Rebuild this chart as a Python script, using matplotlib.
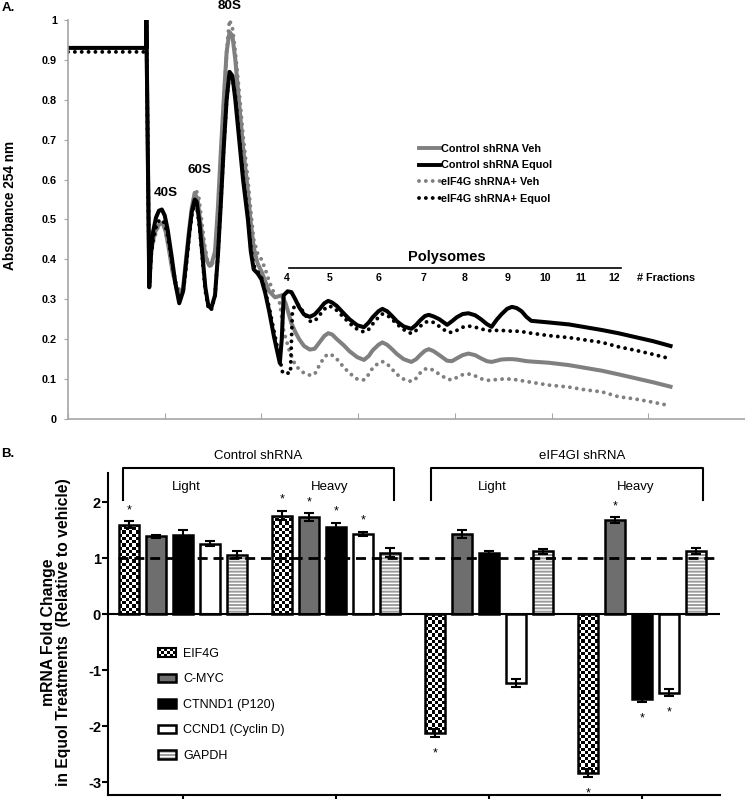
import numpy as np
import matplotlib
matplotlib.use('Agg')
import matplotlib.pyplot as plt
from matplotlib.patches import Rectangle
from matplotlib.lines import Line2D
from matplotlib.legend_handler import HandlerBase, HandlerTuple

plt.rcParams['font.family'] = ['Liberation Sans', 'DejaVu Sans']
plt.rcParams['axes.unicode_minus'] = False
plt.rcParams['hatch.color'] = '#9c9c9c'
plt.rcParams['hatch.linewidth'] = 1.4

# ---- panel A: polysome profiles (x in gradient position units, y absorbance 254 nm)
# early part of each trace (load, 40S, 60S, 80S)
ctrl_equol_x0 = [0, 81, 81, 84, 86, 88, 91, 94, 97, 100, 103, 107, 111, 115, 119, 122, 125, 128, 131, 133,
                 136, 139, 142, 145, 148, 152, 155, 158, 161, 164, 167, 170, 173, 177, 181, 186, 189, 192, 196,
                 200, 204, 208, 213, 219, 221, 223, 227, 231, 235]
ctrl_equol_y0 = [0.93, 0.93, 1.0, 0.33, 0.42, 0.47, 0.505, 0.522, 0.525, 0.51, 0.475, 0.41, 0.34, 0.29, 0.32,
                 0.39, 0.46, 0.52, 0.55, 0.545, 0.49, 0.41, 0.33, 0.285, 0.277, 0.31, 0.41, 0.54, 0.68, 0.8,
                 0.87, 0.86, 0.8, 0.7, 0.6, 0.5, 0.42, 0.375, 0.365, 0.35, 0.315, 0.27, 0.206, 0.14, 0.2, 0.31,
                 0.32, 0.318, 0.3]

kd_equol_x0 = [0, 81, 81, 84, 86, 88, 91, 94, 97, 100, 103, 107, 111, 115, 119, 122, 125, 128, 131, 133,
               136, 139, 142, 145, 148, 152, 155, 158, 161, 164, 167, 170, 173, 177, 181, 186, 189, 192, 196,
               200, 204, 208, 213, 219, 222, 227, 230, 232, 235]
kd_equol_y0 = [0.92, 0.92, 1.0, 0.33, 0.41, 0.45, 0.48, 0.497, 0.5, 0.49, 0.46, 0.4, 0.34, 0.3, 0.32, 0.38,
               0.45, 0.51, 0.54, 0.535, 0.48, 0.4, 0.32, 0.28, 0.272, 0.31, 0.41, 0.54, 0.68, 0.8, 0.865, 0.855,
               0.81, 0.71, 0.61, 0.51, 0.43, 0.385, 0.37, 0.355, 0.32, 0.28, 0.22, 0.15, 0.115, 0.115, 0.115,
               0.27, 0.288]

ctrl_veh_x0 = [81, 84, 86, 89, 92, 95, 98, 101, 104, 108, 112, 115, 119, 122, 125, 128, 131, 134, 137, 140,
               143, 146, 148, 152, 155, 158, 161, 164, 167, 170, 173, 177, 181, 186, 189, 192, 196, 200, 204,
               208, 214, 221, 225, 231, 235]
ctrl_veh_y0 = [1.0, 0.36, 0.42, 0.46, 0.48, 0.49, 0.49, 0.47, 0.43, 0.37, 0.33, 0.31, 0.33, 0.4, 0.47, 0.53,
               0.567, 0.55, 0.49, 0.44, 0.4, 0.385, 0.385, 0.42, 0.53, 0.67, 0.8, 0.92, 0.97, 0.96, 0.9, 0.79,
               0.68, 0.57, 0.49, 0.43, 0.39, 0.37, 0.345, 0.32, 0.305, 0.31, 0.29, 0.24, 0.218]

kd_veh_x0 = [81, 84, 86, 89, 92, 95, 98, 101, 104, 108, 112, 117, 120, 123, 126, 129, 132, 135, 138, 141,
             144, 147, 149, 153, 156, 159, 162, 165, 167, 170, 173, 177, 181, 186, 189, 192, 196, 200, 204,
             208, 214, 219, 223, 229, 235]
kd_veh_y0 = [1.0, 0.38, 0.42, 0.45, 0.475, 0.488, 0.49, 0.47, 0.43, 0.38, 0.34, 0.31, 0.33, 0.4, 0.48, 0.54,
             0.575, 0.56, 0.5, 0.44, 0.4, 0.38, 0.385, 0.43, 0.55, 0.7, 0.84, 0.95, 1.0, 0.98, 0.92, 0.82,
             0.71, 0.6, 0.52, 0.45, 0.415, 0.4, 0.375, 0.345, 0.31, 0.29, 0.22, 0.17, 0.135]

# polysome region, common sampling positions for all four traces
poly_x = [239, 244, 250, 255, 260, 265, 269, 273, 278, 285, 291, 299, 306, 311, 315, 321, 325, 330, 335, 340,
          347, 355, 360, 364, 369, 373, 378, 384, 392, 397, 402, 408, 414, 421, 427, 433, 438, 443, 448, 454,
          459, 464, 469, 474, 479, 497, 518, 535, 552, 569, 587, 605, 623]
ctrl_equol_poly = [0.28, 0.262, 0.256, 0.262, 0.275, 0.29, 0.296, 0.292, 0.283, 0.265, 0.25, 0.235, 0.23,
                   0.242, 0.255, 0.27, 0.276, 0.27, 0.258, 0.245, 0.232, 0.226, 0.236, 0.247, 0.258, 0.261,
                   0.257, 0.25, 0.236, 0.245, 0.255, 0.263, 0.265, 0.26, 0.25, 0.238, 0.231, 0.248, 0.262,
                   0.276, 0.281, 0.278, 0.27, 0.256, 0.246, 0.242, 0.237, 0.23, 0.223, 0.215, 0.205, 0.195, 0.183]
kd_equol_poly = [0.285, 0.265, 0.245, 0.245, 0.26, 0.275, 0.283, 0.281, 0.272, 0.255, 0.24, 0.225, 0.218,
                 0.225, 0.238, 0.255, 0.263, 0.26, 0.25, 0.238, 0.224, 0.214, 0.222, 0.232, 0.242, 0.245,
                 0.242, 0.232, 0.218, 0.217, 0.222, 0.23, 0.233, 0.23, 0.226, 0.222, 0.221, 0.222, 0.222,
                 0.221, 0.22, 0.22, 0.219, 0.217, 0.215, 0.209, 0.204, 0.198, 0.192, 0.181, 0.172, 0.162, 0.151]
ctrl_veh_poly = [0.20, 0.183, 0.174, 0.176, 0.192, 0.208, 0.215, 0.212, 0.2, 0.185, 0.17, 0.155, 0.148, 0.158,
                 0.172, 0.186, 0.192, 0.186, 0.175, 0.163, 0.15, 0.143, 0.15, 0.16, 0.171, 0.175, 0.17, 0.16,
                 0.146, 0.145, 0.152, 0.16, 0.164, 0.16, 0.152, 0.145, 0.143, 0.146, 0.149, 0.15, 0.15, 0.149,
                 0.147, 0.145, 0.144, 0.141, 0.135, 0.128, 0.121, 0.112, 0.102, 0.092, 0.081]
kd_veh_poly = [0.125, 0.115, 0.11, 0.112, 0.135, 0.155, 0.163, 0.16, 0.15, 0.13, 0.115, 0.1, 0.098, 0.112,
               0.128, 0.14, 0.144, 0.138, 0.125, 0.112, 0.1, 0.094, 0.102, 0.115, 0.125, 0.127, 0.122, 0.112,
               0.1, 0.098, 0.104, 0.111, 0.113, 0.108, 0.101, 0.097, 0.097, 0.099, 0.1, 0.1, 0.1, 0.098,
               0.096, 0.094, 0.092, 0.085, 0.08, 0.073, 0.068, 0.056, 0.05, 0.042, 0.033]

fraction_labels = ['4', '5', '6', '7', '8', '9', '10', '11', '12']
fraction_pos = [226, 270, 321, 368, 410, 454, 493, 530, 565]

# ---- panel B: mRNA fold change
groups = ['Control Light', 'Control Heavy', 'eIF4GI Light', 'eIF4GI Heavy']
genes = ['EIF4G', 'C-MYC', 'CTNND1 (P120)', 'CCND1 (Cyclin D)', 'GAPDH']
fold = {
    'EIF4G':            [1.60, 1.76, -2.12, -2.83],
    'C-MYC':            [1.39, 1.73, 1.43, 1.68],
    'CTNND1 (P120)':    [1.42, 1.55, 1.09, -1.51],
    'CCND1 (Cyclin D)': [1.26, 1.43, -1.23, -1.40],
    'GAPDH':            [1.06, 1.10, 1.12, 1.13],
}
err = {
    'EIF4G':            [0.06, 0.08, 0.07, 0.07],
    'C-MYC':            [0.03, 0.07, 0.07, 0.05],
    'CTNND1 (P120)':    [0.09, 0.08, 0.035, 0.06],
    'CCND1 (Cyclin D)': [0.04, 0.035, 0.07, 0.06],
    'GAPDH':            [0.065, 0.075, 0.05, 0.05],
}
signif = {
    'EIF4G':            [1, 1, 1, 1],
    'C-MYC':            [0, 1, 0, 1],
    'CTNND1 (P120)':    [0, 1, 0, 1],
    'CCND1 (Cyclin D)': [0, 1, 0, 1],
    'GAPDH':            [0, 0, 0, 0],
}
bar_colors = {'EIF4G': 'white', 'C-MYC': '#6e6e6e', 'CTNND1 (P120)': 'black',
              'CCND1 (Cyclin D)': 'white', 'GAPDH': 'white'}

fig = plt.figure(figsize=(7.45, 7.99), dpi=100)

# ================= Panel A
axA = fig.add_axes([0.0913, 0.4756, 0.9087, 0.4994])
gray = '#808080'
dots = (0, (0.01, 1.75))
axA.plot(kd_veh_x0 + poly_x, kd_veh_y0 + kd_veh_poly, color=gray, lw=2.8, linestyle=dots,
         dash_capstyle='round')
axA.plot(ctrl_veh_x0 + poly_x, ctrl_veh_y0 + ctrl_veh_poly, color=gray, lw=2.9, solid_joinstyle='round')
axA.plot(kd_equol_x0 + poly_x, kd_equol_y0 + kd_equol_poly, color='black', lw=2.8, linestyle=dots,
         dash_capstyle='round')
axA.plot(ctrl_equol_x0 + poly_x, ctrl_equol_y0 + ctrl_equol_poly, color='black', lw=2.9,
         solid_joinstyle='round')

axA.set_xlim(0, 700)
axA.set_ylim(0, 1)
axA.set_xticks(range(0, 701, 100))
axA.set_xticklabels([])
yt = np.arange(0, 1.01, 0.1)
axA.set_yticks(yt)
axA.set_yticklabels([f'{v:g}' for v in yt], fontsize=7.8, fontweight='bold')
for s in ['top', 'right']:
    axA.spines[s].set_visible(False)
for s in ['left', 'bottom']:
    axA.spines[s].set_color('#a6a6a6')
    axA.spines[s].set_linewidth(1.2)
axA.tick_params(axis='x', direction='in', length=4, color='#a6a6a6')
axA.tick_params(axis='y', direction='out', length=3, color='#a6a6a6', pad=5)

for lbl, xx, yy in [('80S', 167, 1.035), ('60S', 136, 0.624), ('40S', 101, 0.566)]:
    axA.text(xx, yy, lbl, fontsize=9.7, fontweight='bold', ha='center', va='center', clip_on=False)

axA.plot([229, 572], [0.378, 0.378], color='black', lw=1.2)
axA.text(392, 0.406, 'Polysomes', fontsize=10.5, fontweight='bold', ha='center', va='center')
for lbl, xx in zip(fraction_labels, fraction_pos):
    axA.text(xx, 0.353, lbl, fontsize=7.6, fontweight='bold', ha='center', va='center')
axA.text(588, 0.353, '# Fractions', fontsize=7.8, fontweight='bold', ha='left', va='center')

legA = [Line2D([], [], color=gray, lw=2.8),
        Line2D([], [], color='black', lw=2.8),
        Line2D([], [], color=gray, lw=2.8, linestyle=dots, dash_capstyle='round'),
        Line2D([], [], color='black', lw=2.8, linestyle=dots, dash_capstyle='round')]
axA.legend(legA, ['Control shRNA Veh', 'Control shRNA Equol', 'eIF4G shRNA+ Veh', 'eIF4G shRNA+ Equol'],
           loc='upper left', bbox_to_anchor=(0.518, 0.69), frameon=False, borderpad=0, borderaxespad=0,
           handlelength=2.0, handletextpad=0.1, labelspacing=0.62, prop={'weight': 'bold', 'size': 7.8})

fig.text(10 / 745, 0.743, 'Absorbance 254 nm', rotation=90, fontsize=9.8, fontweight='bold',
         ha='center', va='center')
fig.text(0.002, 0.99, 'A.', fontsize=9.5, fontweight='bold', ha='left', va='center')
fig.text(0.002, 0.432, 'B.', fontsize=9.5, fontweight='bold', ha='left', va='center')

# ================= Panel B
axB = fig.add_axes([0.145, 0.005, 0.8215, 0.403])
xlim = (-0.49, 3.51)
ylim = (-3.23, 2.52)
axB.set_xlim(*xlim)
axB.set_ylim(*ylim)
gpos = np.arange(len(groups))
step = 0.1765
width = 0.125
px_x = axB.bbox.width / (xlim[1] - xlim[0])
px_y = axB.bbox.height / (ylim[1] - ylim[0])

handles = []
for i, g in enumerate(genes):
    xs = gpos + (i - 2) * step
    vals = np.array(fold[g])
    if g == 'GAPDH':
        hb = axB.bar(xs, vals, width, color='white', hatch='-----', linewidth=0, zorder=2)
        ob = axB.bar(xs, vals, width, fill=False, edgecolor='black', linewidth=1.8, zorder=3)
        handles.append((hb[0], ob[0]))
    elif g == 'EIF4G':
        bb = axB.bar(xs, vals, width, color='white', edgecolor='none', linewidth=0, zorder=1)
        for r in bb:
            x0, w = r.get_x(), r.get_width()
            y0, h = r.get_y(), r.get_height()
            ncol = 6
            cell = w * px_x / ncol
            nrow = max(1, int(round(abs(h) * px_y / cell)))
            board = np.add.outer(np.arange(nrow), np.arange(ncol)) % 2
            im = axB.imshow(board, cmap='gray', vmin=0, vmax=1, interpolation='nearest', aspect='auto',
                            origin='lower', extent=(x0, x0 + w, min(y0, y0 + h), max(y0, y0 + h)), zorder=2)
            im.set_clip_path(r)
        ob = axB.bar(xs, vals, width, fill=False, edgecolor='black', linewidth=1.8, zorder=3)
        handles.append(ob[0])
        checker_handle = ob[0]
    else:
        bb = axB.bar(xs, vals, width, color=bar_colors[g], edgecolor='black', linewidth=1.8, zorder=3)
        handles.append(bb[0])
    axB.errorbar(xs, vals, yerr=err[g], fmt='none', ecolor='black', elinewidth=1.5, capsize=3.5,
                 capthick=1.5, zorder=4)
    for xx, v, e, s in zip(xs, vals, err[g], signif[g]):
        if s:
            if v > 0:
                axB.text(xx, v + e + 0.2, '*', fontsize=9, ha='center', va='center')
            else:
                axB.text(xx, v - e - 0.3, '*', fontsize=9, ha='center', va='center')

axB.set_xlim(*xlim)
axB.set_ylim(*ylim)
axB.axhline(0, color='black', lw=1.5, zorder=3)
axB.axhline(1, xmin=0.016, xmax=0.995, color='black', lw=2, linestyle=(0, (3.6, 2.1)), zorder=5)

axB.set_xticks(gpos)
axB.set_xticklabels([])
axB.set_yticks([-3, -2, -1, 0, 1, 2])
axB.set_yticklabels(['-3', '-2', '-1', '0', '1', '2'], fontsize=10.5, fontweight='bold')
axB.tick_params(axis='both', direction='out', length=4, width=1.5, pad=1)
for s in ['top', 'right']:
    axB.spines[s].set_visible(False)
for s in ['left', 'bottom']:
    axB.spines[s].set_linewidth(1.5)

# brackets and group labels
for x0, x1, name, cx in [(-0.39, 1.38, 'Control shRNA', 0.49), (1.62, 3.40, 'eIF4GI shRNA', 2.61)]:
    axB.plot([x0, x0, x1, x1], [2.04, 2.61, 2.61, 2.04], color='black', lw=1.5, clip_on=False)
    axB.text(cx, 2.82, name, fontsize=9.5, ha='center', va='center', clip_on=False)
for g, xx in zip(groups, gpos):
    axB.text(xx + 0.02 if xx % 2 == 0 else xx - 0.04, 2.27, g.split()[-1], fontsize=9.5,
             ha='center', va='center')


class CheckerHandler(HandlerBase):
    def create_artists(self, legend, orig_handle, xdescent, ydescent, width, height, fontsize, trans):
        arts = [Rectangle((-xdescent, -ydescent), width, height, facecolor='white', edgecolor='none',
                          transform=trans)]
        n, m = 6, 3
        cw, ch = width / n, height / m
        for a in range(n):
            for b in range(m):
                if (a + b) % 2 == 0:
                    arts.append(Rectangle((-xdescent + a * cw, -ydescent + b * ch), cw, ch,
                                          facecolor='black', edgecolor='none', transform=trans))
        arts.append(Rectangle((-xdescent, -ydescent), width, height, facecolor='none', edgecolor='black',
                              lw=1.5, transform=trans))
        return arts


axB.legend(handles, genes, loc='upper left', bbox_to_anchor=(0.082, 0.457), frameon=False,
           borderpad=0, borderaxespad=0, handlelength=1.45, handleheight=0.65, handletextpad=0.55,
           labelspacing=1.08, fontsize=9,
           handler_map={checker_handle: CheckerHandler(), tuple: HandlerTuple(ndivide=1)})

fig.text(56 / 745, 1 - 632 / 799, 'mRNA Fold Change\nin Equol Treatments  (Relative to vehicle)',
         rotation=90, fontsize=11.3, fontweight='bold', ha='center', va='center',
         multialignment='center', linespacing=1.05)

fig.savefig('out.png', dpi=100)
